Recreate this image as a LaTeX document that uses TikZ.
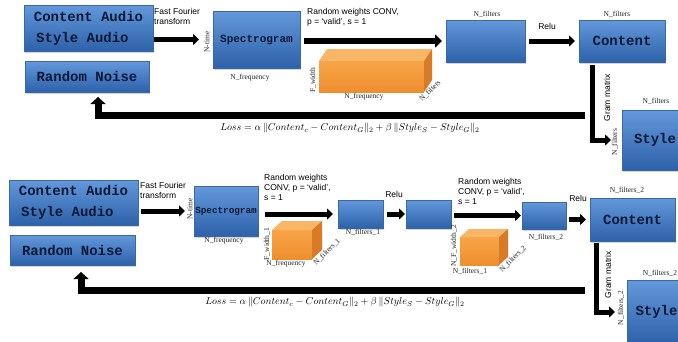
\documentclass[tikz,border=0pt]{standalone}
\usepackage{fontspec}
\setmainfont{Liberation Serif}
\setsansfont{Liberation Sans}
\setmonofont{Liberation Mono}
\usetikzlibrary{arrows.meta,shadows}

\definecolor{boxtop}{HTML}{6398DB}
\definecolor{boxbot}{HTML}{2D62AA}
\definecolor{boxedge}{HTML}{3A68A2}
\definecolor{boxtext}{HTML}{0C1936}
\definecolor{orlight}{HTML}{F7A548}
\definecolor{ordark}{HTML}{EE8E2E}
\definecolor{ortop}{HTML}{F9B666}
\definecolor{orside}{HTML}{D87A26}

% orange cuboid: front face corners (#1,#2)-(#3,#4), depth offset (#5,#6)
\newcommand\cuboid[6]{%
  \fill[top color=orlight, bottom color=ordark] (#1,#2) rectangle (#3,#4);
  \fill[ortop] (#1,#2) -- ++(#5,#6) -- (#3+#5,#2+#6) -- (#3,#2) -- cycle;
  \fill[orside] (#3,#2) -- ++(#5,#6) -- (#3+#5,#4+#6) -- (#3,#4) -- cycle;
}

\tikzset{
  bluebox/.style={draw=boxedge, line width=0.6pt, top color=boxtop, bottom color=boxbot,
    anchor=north west, inner sep=0pt, outer sep=0pt, text=boxtext,
    drop shadow={shadow xshift=1.2pt, shadow yshift=-1.5pt, opacity=0.35}},
  bigtext/.style={font=\ttfamily\bfseries\fontsize{14}{21}\selectfont, align=left},
  midtext/.style={font=\ttfamily\bfseries\fontsize{11}{13}\selectfont},
  smalltext/.style={font=\ttfamily\bfseries\fontsize{9.3}{11}\selectfont},
  note/.style={font=\sffamily\fontsize{8.5}{10.5}\selectfont, align=left, anchor=north west, inner sep=0pt},
  dim/.style={font=\rmfamily\fontsize{7.5}{9}\selectfont, inner sep=0pt, text=black!85},
  fatarrow/.style={line width=6pt, -{Triangle[length=7pt,width=13pt]}},
  slimarrow/.style={line width=5pt, -{Triangle[length=6pt,width=11pt]}},
  lossarrow/.style={line width=7pt, -{Triangle[length=7pt,width=15pt]}},
  formula/.style={font=\fontsize{10}{12}\selectfont, inner sep=0pt},
}

\begin{document}
\begin{tikzpicture}[x=1pt, y=-1pt]
\useasboundingbox (0,0) rectangle (678,341);
\clip (0,0) rectangle (678,341);
\fill[white] (0,0) rectangle (678,341);

% ---------------- single-layer network ----------------
\node[bluebox, bigtext, minimum width=129pt, minimum height=46pt] (src1) at (24,5)
  {Content Audio\\\,Style Audio};
\node[bluebox, bigtext, minimum width=124pt, minimum height=31pt] (noise1) at (25,61)
  {Random Noise};
\node[bluebox, midtext, minimum width=87pt, minimum height=57pt] (spec1) at (213,11)
  {Spectrogram};
\node[bluebox, minimum width=79pt, minimum height=42pt] (conv1) at (446,20) {};
\node[bluebox, bigtext, minimum width=86pt, minimum height=42pt] (cont1) at (579,20)
  {Content};
\node[bluebox, bigtext, minimum width=66pt, minimum height=60pt] (style1) at (622,110)
  {Style};

\cuboid{319}{61}{424}{92}{8}{-12}

\draw[slimarrow, shorten <=1pt, shorten >=14pt] (src1.east |- spec1.west) -- (spec1.west);
\draw[fatarrow, shorten <=4pt, shorten >=4pt] (spec1.east |- conv1.west) -- (conv1.west);
\draw[slimarrow, shorten <=4pt, shorten >=4pt] (conv1.east) -- (cont1.west);

\coordinate (g1) at ([xshift=13pt]cont1.south west);
\draw[slimarrow, shorten <=3pt, shorten >=11pt] (g1) |- (style1.west);

\coordinate (l1R) at (585,115.5);
\coordinate (l1L) at (98,115.5);
\draw[lossarrow, shorten >=5pt] (l1R) -- (l1L) -- (l1L |- noise1.south);

\node[note] (fft1) at (154,8) {Fast Fourier\\transform};
\node[note] (rw1) at (307,8) {Random weights CONV,\\p = `valid', s = 1};
\node[dim, rotate=90] (nt1) at (207,42) {N-time};
\node[dim] (nf1) at (250,78) {N\_frequency};
\node[dim, rotate=90] (fw1) at (313,80) {F\_width};
\node[dim] (nf1b) at (364,97) {N\_frequency};
\node[dim, rotate=45] (nfd1) at (430,91) {N\_filters};
\node[dim] (nfa1) at (487,14) {N\_filters};
\node[note, anchor=center] (relu1) at (547,26) {Relu};
\node[dim] (nfc1) at (617,14) {N\_filters};
\node[note, anchor=center, rotate=90] (gm1) at (607,98) {Gram matrix};
\node[dim] (nfs1) at (656,101) {N\_filters};
\node[dim, rotate=90] (nfs1b) at (615,142) {N\_filters};
\node[formula] (loss1) at (350,128)
  {$Loss = \alpha\,\Vert Content_c - Content_G\Vert_2 + \beta\,\Vert Style_S - Style_G\Vert_2$};

% ---------------- two-layer network ----------------
\node[bluebox, bigtext, minimum width=129pt, minimum height=45pt] (src2) at (9,180)
  {Content Audio\\\,Style Audio};
\node[bluebox, bigtext, minimum width=125pt, minimum height=30pt] (noise2) at (10,235)
  {Random Noise};
\node[bluebox, smalltext, minimum width=64pt, minimum height=50pt] (spec2) at (194,186)
  {Spectrogram};
\node[bluebox, minimum width=45pt, minimum height=28pt] (conv2a) at (338,200) {};
\node[bluebox, minimum width=45pt, minimum height=28pt] (relu2a) at (406,200) {};
\node[bluebox, minimum width=44pt, minimum height=27pt] (conv2b) at (522,202) {};
\node[bluebox, bigtext, minimum width=85pt, minimum height=43pt] (cont2) at (590,198)
  {Content};
\node[bluebox, bigtext, minimum width=59pt, minimum height=64pt] (style2) at (627,280)
  {Style};

\cuboid{272}{230}{312}{259}{10}{-9}
\cuboid{460}{237}{499}{265}{9}{-8}

\draw[slimarrow, shorten <=3pt, shorten >=9pt] (src2.east |- spec2.west) -- (spec2.west);
\draw[slimarrow, shorten <=7pt, shorten >=5pt] (spec2.east |- conv2a.west) -- (conv2a.west);
\draw[slimarrow, shorten <=4pt, shorten >=1pt] (conv2a.east) -- (relu2a.west);
\draw[slimarrow, shorten <=3pt, shorten >=1pt] (relu2a.east |- conv2b.west) -- (conv2b.west);
\draw[slimarrow, shorten <=3pt, shorten >=4pt] (conv2b.east |- cont2.west) -- (cont2.west);

\coordinate (g2) at ([xshift=6pt]cont2.south west);
\draw[slimarrow, shorten <=2pt, shorten >=12pt] (g2) |- (style2.west);

\coordinate (l2R) at (585,290);
\coordinate (l2L) at (81,290);
\draw[lossarrow, shorten >=7pt] (l2R) -- (l2L) -- (l2L |- noise2.south);

\node[note] (fft2) at (140,182) {Fast Fourier\\transform};
\node[note, font=\sffamily\fontsize{8.5}{10}\selectfont] (rw2a) at (264,174)
  {Random weights\\CONV, p = `valid',\\s = 1};
\node[note, font=\sffamily\fontsize{8.5}{10}\selectfont] (rw2b) at (458,178)
  {Random weights\\CONV, p = `valid',\\s = 1};
\node[dim, rotate=90] (nt2) at (190,209) {N-time};
\node[dim] (nf2) at (224,241) {N\_frequency};
\node[dim, rotate=90] (fw2) at (267,244) {F\_width\_1};
\node[dim] (nf2b) at (286,264) {N\_frequency};
\node[dim, rotate=45] (nfd2) at (327,252) {N\_filters\_1};
\node[dim] (nfa2) at (363,232) {N\_filters\_1};
\node[note, anchor=center] (relu2) at (394,194) {Relu};
\node[dim, rotate=90] (fw3) at (454,246) {N\_F\_width\_2};
\node[dim] (nfb2) at (470,271) {N\_filters\_1};
\node[dim, rotate=45] (nfd3) at (513,259) {N\_filters\_2};
\node[dim] (nfc2) at (546,237) {N\_filters\_2};
\node[note, anchor=center] (relu3) at (578,198) {Relu};
\node[dim] (nfk2) at (627,190) {N\_filters\_2};
\node[note, anchor=center, rotate=90] (gm2) at (608,275) {Gram matrix};
\node[dim] (nfs2) at (660,273) {N\_filters\_2};
\node[dim, rotate=90] (nfs2b) at (621,308) {N\_filters\_2};
\node[formula] (loss2) at (335,302)
  {$Loss = \alpha\,\Vert Content_c - Content_G\Vert_2 + \beta\,\Vert Style_S - Style_G\Vert_2$};
\end{tikzpicture}
\end{document}
